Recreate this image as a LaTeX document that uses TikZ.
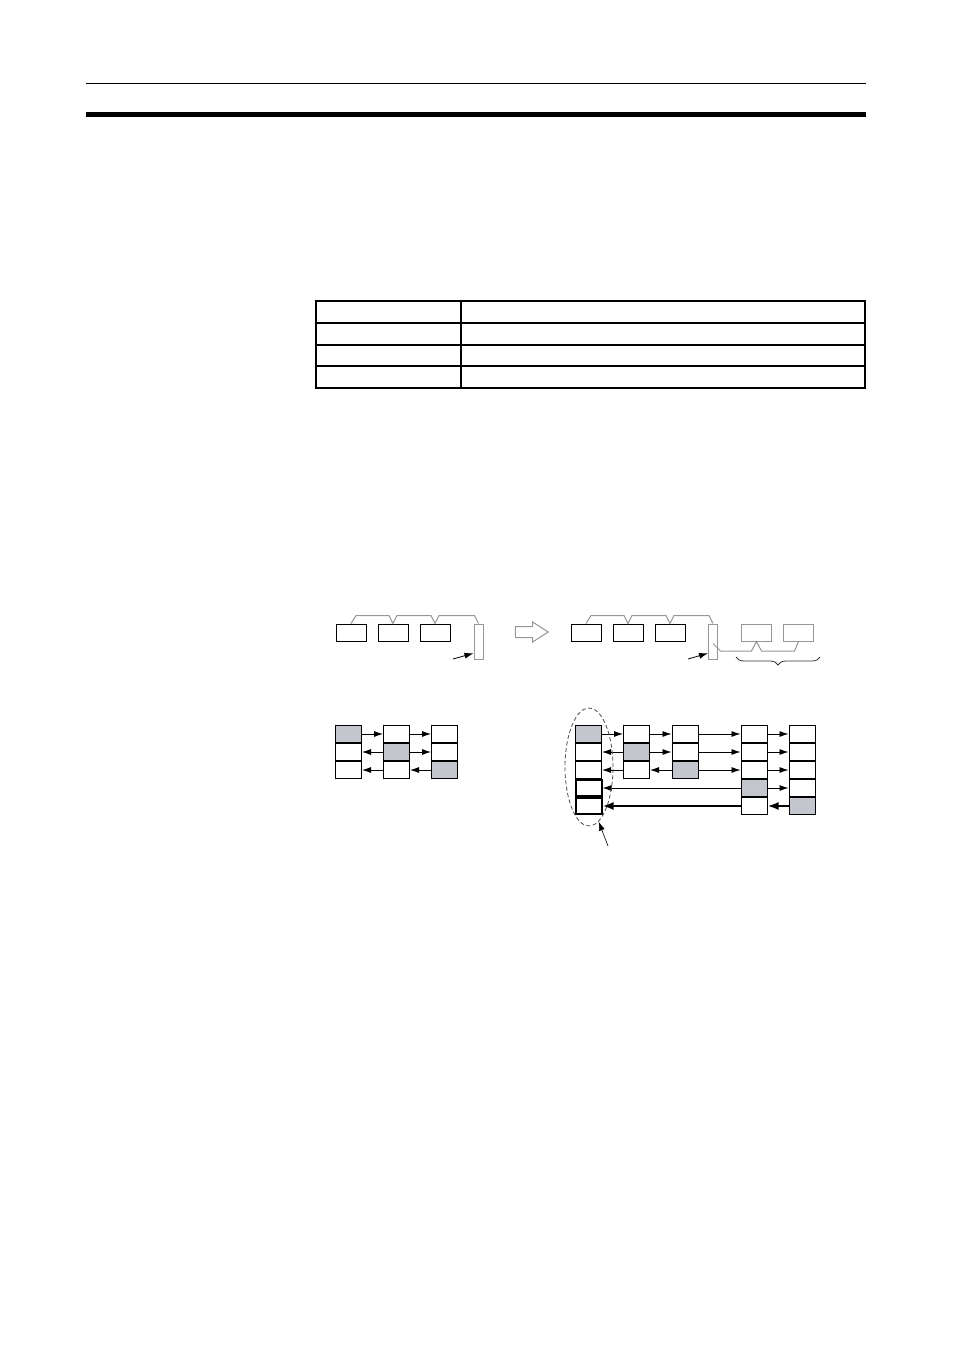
\documentclass[tikz,border=0pt]{standalone}
\usepackage{amsmath}
\usetikzlibrary{shapes.geometric, shapes.arrows, arrows.meta, positioning, calc, decorations.pathreplacing}
\definecolor{cellgray}{RGB}{196,198,205}
\definecolor{linegray}{RGB}{150,150,150}

\begin{document}
\begin{tikzpicture}[x=1pt, y=-1pt, >={Latex[length=9pt,width=6pt]}, node distance=11pt,
    cell/.style={draw, line width=1pt, minimum width=26pt, minimum height=17pt, inner sep=0pt},
    heavy/.style={line width=2pt, minimum height=16pt},
    hot/.style={fill=cellgray},
    word/.style={draw, line width=1pt, minimum width=30pt, minimum height=17pt, inner sep=0pt},
    reg/.style={draw=linegray, line width=1pt, minimum width=9pt, minimum height=35pt, inner sep=0pt},
    brk/.style={linegray, line width=1pt},
    flow/.style={->, line width=0.8pt},
    bigflow/.style={-{Latex[length=11pt,width=8pt]}, line width=2pt}]

        \useasboundingbox (0,0) rectangle (954,1351);

        % Page rules
        \draw[line width=1pt] (86,84) -- (866,84);
        \draw[line width=5pt] (86,115) -- (866,115);

        % Table
        \draw[line width=1.5pt] (316,301) rectangle (865,388);
        \draw[line width=1.5pt] (316,323) -- (865,323) (316,345) -- (865,345) (316,366) -- (865,366);
        \draw[line width=1.5pt] (461,301) -- (461,388);

        % Words before
        \node[word] (w1) at (351,632.5) {};
        \node[word, right=of w1] (w2) {};
        \node[word, right=of w2] (w3) {};
        \node[reg] (regA) at (478.5,641.5) {};
        \draw[brk] (w1.north) -- ++(5,-8) -- ($(w2.north)+(-4,-8)$) -- (w2.north) -- ++(4,-8)
            -- ($(w3.north)+(-4,-8)$) -- (w3.north) -- ++(4,-8) -- ($(regA.north)+(-4,-8)$) -- (regA.north);
        \coordinate (pA) at (453,659);
        \draw[flow] (pA) -- (regA.247);

        % Hollow arrow
        \node[single arrow, draw=linegray, line width=1pt, minimum height=33pt, minimum width=19pt,
            inner sep=5pt, single arrow head extend=4.5pt, single arrow tip angle=65] (go) at (527.5,632) {};

        % Words after
        \node[word] (v1) at (586,632.5) {};
        \node[word, right=of v1] (v2) {};
        \node[word, right=of v2] (v3) {};
        \node[reg] (regB) at (713,641.5) {};
        \node[word, draw=linegray] (v4) at (756.5,632.5) {};
        \node[word, draw=linegray, right=of v4] (v5) {};
        \draw[brk] (v1.north) -- ++(5,-8) -- ($(v2.north)+(-4,-8)$) -- (v2.north) -- ++(4,-8)
            -- ($(v3.north)+(-4,-8)$) -- (v3.north) -- ++(4,-8) -- ($(regB.north)+(-4,-8)$) -- (regB.north);
        \draw[brk] ($(regB.center)+(0,2)$) -- ++(7.5,7.5) -- ($(v4.south)+(-5,9.5)$) -- (v4.south)
            -- ++(5,9.5) -- ($(v5.south)+(-4,9.5)$) -- (v5.south);
        \coordinate (pB) at (688,659);
        \draw[flow] (pB) -- (regB.247);
        \coordinate (brR) at (820,657);
        \coordinate (brL) at (736,657);
        \draw[decorate, decoration={brace, amplitude=8pt}, line width=0.8pt, black!80] (brR) -- (brL);

        % Small table
        \node[cell, hot] (p1) at (348.5,734) {};
        \node[cell, below=0pt of p1] (p2) {};
        \node[cell, below=0pt of p2] (p3) {};
        \node[cell, right=21pt of p1] (q1) {};
        \node[cell, hot, below=0pt of q1] (q2) {};
        \node[cell, below=0pt of q2] (q3) {};
        \node[cell, right=21pt of q1] (r1) {};
        \node[cell, below=0pt of r1] (r2) {};
        \node[cell, hot, below=0pt of r2] (r3) {};

        \draw[flow] (p1) -- (q1);
        \draw[flow] (q1) -- (r1);
        \draw[flow] (q2) -- (p2);
        \draw[flow] (q2) -- (r2);
        \draw[flow] (q3) -- (p3);
        \draw[flow] (r3) -- (q3);

        % Large table
        \node[cell, hot] (a1) at (588.5,734) {};
        \node[cell, below=0pt of a1] (a2) {};
        \node[cell, below=0pt of a2] (a3) {};
        \node[cell, heavy, below=0pt of a3] (a4) {};
        \node[cell, heavy, below=0pt of a4] (a5) {};
        \node[cell, right=21pt of a1] (b1) {};
        \node[cell, hot, below=0pt of b1] (b2) {};
        \node[cell, below=0pt of b2] (b3) {};
        \node[cell, right=21.5pt of b1] (c1) {};
        \node[cell, below=0pt of c1] (c2) {};
        \node[cell, hot, below=0pt of c2] (c3) {};
        \node[cell, right=42pt of c1] (d1) {};
        \node[cell, below=0pt of d1] (d2) {};
        \node[cell, below=0pt of d2] (d3) {};
        \node[cell, hot, below=0pt of d3] (d4) {};
        \node[cell, below=0pt of d4] (d5) {};
        \node[cell, right=21pt of d1] (e1) {};
        \node[cell, below=0pt of e1] (e2) {};
        \node[cell, below=0pt of e2] (e3) {};
        \node[cell, below=0pt of e3] (e4) {};
        \node[cell, hot, below=0pt of e4] (e5) {};

        \draw[flow] (a1) -- (b1);
        \draw[flow] (b1) -- (c1);
        \draw[flow] (c1) -- (d1);
        \draw[flow] (d1) -- (e1);
        \draw[flow] (b2) -- (a2);
        \draw[flow] (b2) -- (c2);
        \draw[flow] (c2) -- (d2);
        \draw[flow] (d2) -- (e2);
        \draw[flow] (b3) -- (a3);
        \draw[flow] (c3) -- (b3);
        \draw[flow] (c3) -- (d3);
        \draw[flow] (d3) -- (e3);
        \draw[flow] (d4) -- (a4);
        \draw[flow] (d4) -- (e4);
        \draw[bigflow] (e5) -- (d5);
        \draw[bigflow] (d5) -- (a5);

        % Group outline
        \node[draw=black!70, dash pattern=on 4pt off 2.5pt, line width=0.8pt, ellipse,
            minimum width=48pt, minimum height=118pt] (grp) at (589,767) {};
        \coordinate (pC) at (608,846);
        \draw[flow, line width=0.6pt] (pC) -- (grp.280);
\end{tikzpicture}
\end{document}
